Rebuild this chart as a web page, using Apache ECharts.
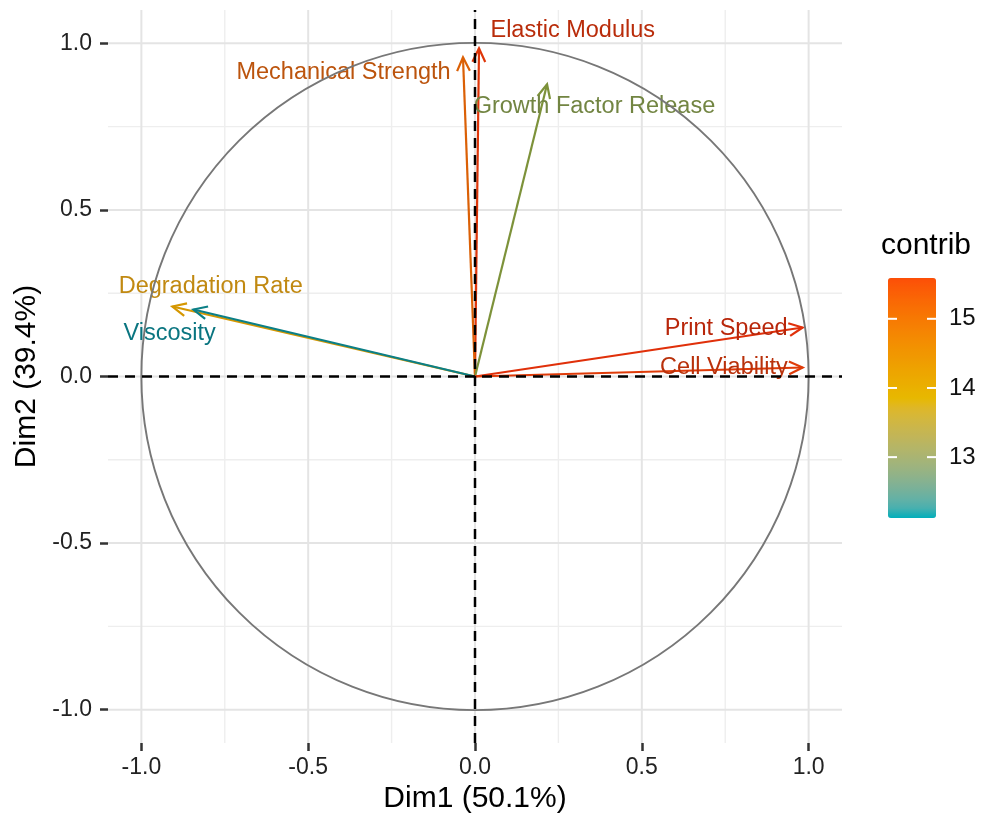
<!DOCTYPE html>
<html>
<head>
<meta charset="utf-8">
<script src="https://cdn.jsdelivr.net/npm/echarts@6/dist/echarts.min.js"></script>
<style>
  html, body { margin: 0; background: #fff; }
  #chart { width: 981px; height: 821px; }
</style>
</head>
<body>
<div id="chart"></div>
<script>
// PCA variables: arrow tips on Dim1 / Dim2 and their contribution
const variables = ['Elastic Modulus', 'Mechanical Strength', 'Growth Factor Release', 'Degradation Rate', 'Viscosity', 'Print Speed', 'Cell Viability']
const dim1 = [0.012, -0.036, 0.216, -0.907, -0.844, 0.982, 0.982]
const dim2 = [0.985, 0.958, 0.877, 0.210, 0.201, 0.147, 0.027]
const contrib = [15.5, 14.85, 13.1, 14.0, 12.12, 15.59, 15.42]
// where the (repelled) labels sit, in Dim units
const labelDim1 = [0.293, -0.394, 0.358, -0.792, -0.915, 0.753, 0.746]
const labelDim2 = [1.039, 0.913, 0.811, 0.270, 0.129, 0.144, 0.027]

const axisTicks = [-1, -0.5, 0, 0.5, 1]
const minorBreaks = [-0.75, -0.25, 0.25, 0.75]
const legendTicks = [13, 14, 15]
const contribRange = [12.12, 15.59]
const gradientCols = ['#00AFBB', '#E7B800', '#FC4E07']
// the marks in the picture come out deeper than the colour bar
const arrowCols = ['#0B7F86', '#D4A000', '#E0300A']
const textCols = ['#0A7580', '#C29212', '#B8260A']

const FONT = "'Liberation Sans', Arial, sans-serif"
const LIM = 1.1

// ggplot interpolates gradientn in CIELAB, so build the bar ramp the same way
function hexRgb (h) { return [1, 3, 5].map(i => parseInt(h.slice(i, i + 2), 16)) }
function toLab (rgb) {
  const [r, g, b] = rgb.map(c => { c /= 255; return c <= 0.04045 ? c / 12.92 : Math.pow((c + 0.055) / 1.055, 2.4) })
  const x = (0.4124 * r + 0.3576 * g + 0.1805 * b) / 0.95047
  const y = 0.2126 * r + 0.7152 * g + 0.0722 * b
  const z = (0.0193 * r + 0.1192 * g + 0.9505 * b) / 1.08883
  const f = t => t > 0.008856 ? Math.cbrt(t) : 7.787 * t + 16 / 116
  return [116 * f(y) - 16, 500 * (f(x) - f(y)), 200 * (f(y) - f(z))]
}
function fromLab ([L, a, bb]) {
  const fy = (L + 16) / 116, fx = fy + a / 500, fz = fy - bb / 200
  const fi = t => t * t * t > 0.008856 ? t * t * t : (t - 16 / 116) / 7.787
  const x = fi(fx) * 0.95047, y = fi(fy), z = fi(fz) * 1.08883
  const lin = [3.2406 * x - 1.5372 * y - 0.4986 * z, -0.9689 * x + 1.8758 * y + 0.0415 * z, 0.0557 * x - 0.2040 * y + 1.0570 * z]
  const c = lin.map(v => {
    v = v <= 0.0031308 ? 12.92 * v : 1.055 * Math.pow(v, 1 / 2.4) - 0.055
    return Math.round(Math.max(0, Math.min(1, v)) * 255)
  })
  return 'rgb(' + c.join(',') + ')'
}
const labs = gradientCols.map(c => toLab(hexRgb(c)))
const ramp = []
for (let i = 0; i <= 24; i++) {
  const t = i / 24 * (labs.length - 1)
  const k = Math.min(Math.floor(t), labs.length - 2)
  const f = t - k
  ramp.push(fromLab(labs[k].map((v, j) => v + (labs[k + 1][j] - v) * f)))
}

// plain rgb blend for the arrows and labels
function markColor (cols, v) {
  const t = (v - contribRange[0]) / (contribRange[1] - contribRange[0]) * (cols.length - 1)
  const k = Math.max(0, Math.min(Math.floor(t), cols.length - 2))
  const f = Math.max(0, Math.min(1, t - k))
  const a = hexRgb(cols[k]), b = hexRgb(cols[k + 1])
  return 'rgb(' + a.map((c, j) => Math.round(c + (b[j] - c) * f)).join(',') + ')'
}

const chartDom = document.getElementById('chart')
const myChart = echarts.init(chartDom)

// straight rules across the panel (grid and zero lines)
function ruleSeries (values, vertical, style, z) {
  return {
    type: 'custom',
    silent: true,
    z: z,
    data: values.map(v => vertical ? [v, 0] : [0, v]),
    renderItem: (params, api) => {
      const v = api.value(vertical ? 0 : 1)
      const p1 = api.coord(vertical ? [v, -LIM] : [-LIM, v])
      const p2 = api.coord(vertical ? [v, LIM] : [LIM, v])
      return { type: 'line', shape: { x1: p1[0], y1: p1[1], x2: p2[0], y2: p2[1] }, style: style }
    }
  }
}

const arrowData = variables.map((name, i) => [dim1[i], dim2[i], contrib[i], labelDim1[i], labelDim2[i], name])

const majorStyle = { stroke: '#e4e4e4', lineWidth: 2 }
const minorStyle = { stroke: '#eeeeee', lineWidth: 1.4 }
const zeroStyle = { stroke: '#000', lineWidth: 2.5, lineDash: [10, 7] }

const series = [
  ruleSeries(minorBreaks, true, minorStyle, 1),
  ruleSeries(minorBreaks, false, minorStyle, 1),
  ruleSeries(axisTicks, true, majorStyle, 1),
  ruleSeries(axisTicks, false, majorStyle, 1),
  {
    type: 'custom',
    silent: true,
    z: 3,
    data: arrowData,
    encode: { x: 0, y: 1 },
    renderItem: (params, api) => {
      const o = api.coord([0, 0])
      const t = api.coord([api.value(0), api.value(1)])
      const stroke = markColor(arrowCols, api.value(2))
      const ang = Math.atan2(t[1] - o[1], t[0] - o[0])
      const L = 15, a = 0.44
      const h1 = [t[0] - L * Math.cos(ang - a), t[1] - L * Math.sin(ang - a)]
      const h2 = [t[0] - L * Math.cos(ang + a), t[1] - L * Math.sin(ang + a)]
      const lp = api.coord([api.value(3), api.value(4)])
      return {
        type: 'group',
        children: [
          { type: 'line', shape: { x1: o[0], y1: o[1], x2: t[0], y2: t[1] }, style: { stroke: stroke, lineWidth: 2.2 } },
          { type: 'polyline', shape: { points: [h1, t, h2] }, style: { stroke: stroke, lineWidth: 2.2, fill: null } },
          {
            type: 'text',
            x: lp[0],
            y: lp[1],
            style: {
              text: arrowData[params.dataIndex][5],
              fill: markColor(textCols, api.value(2)),
              font: '23.5px ' + FONT,
              align: 'center',
              verticalAlign: 'middle'
            }
          }
        ]
      }
    }
  },
  {
    // correlation circle
    type: 'custom',
    silent: true,
    z: 4,
    data: [[0, 0, 1]],
    renderItem: (params, api) => {
      const c = api.coord([api.value(0), api.value(1)])
      const r = api.size([api.value(2), 0])[0]
      return { type: 'circle', shape: { cx: c[0], cy: c[1], r: r }, style: { stroke: '#777', lineWidth: 1.9, fill: null } }
    }
  },
  ruleSeries([0], true, zeroStyle, 5),
  ruleSeries([0], false, zeroStyle, 5)
]

const barTop = 278, barH = 240, barLeft = 888, barW = 48
const legendGraphics = [
  { type: 'text', left: 881, top: 231, style: { text: 'contrib', font: '30px ' + FONT, fill: '#000' } }
]
legendTicks.forEach(v => {
  const y = barTop + (contribRange[1] - v) / (contribRange[1] - contribRange[0]) * barH
  legendGraphics.push(
    { type: 'line', z: 100, shape: { x1: barLeft, y1: y, x2: barLeft + 9, y2: y }, style: { stroke: '#fff', lineWidth: 2 } },
    { type: 'line', z: 100, shape: { x1: barLeft + barW - 9, y1: y, x2: barLeft + barW, y2: y }, style: { stroke: '#fff', lineWidth: 2 } },
    { type: 'text', z: 100, x: 949, y: y, style: { text: String(v), font: '24px ' + FONT, fill: '#111', verticalAlign: 'middle' } }
  )
})

function valueAxis (name, gap, margin) {
  return {
    type: 'value',
    min: -LIM,
    max: LIM,
    name: name,
    nameLocation: 'middle',
    nameGap: gap,
    nameTextStyle: { fontSize: 30, color: '#000', fontFamily: FONT },
    axisLine: { show: false, onZero: false },
    splitLine: { show: false },
    axisTick: { show: true, customValues: axisTicks, length: 8, lineStyle: { color: '#333', width: 2.5 } },
    axisLabel: { customValues: axisTicks, formatter: v => v.toFixed(1), fontSize: 23, color: '#222', fontFamily: FONT, margin: margin }
  }
}

myChart.setOption({
  animation: false,
  backgroundColor: '#fff',
  grid: { left: 108, right: 139, top: 10, bottom: 78 },
  xAxis: valueAxis('Dim1 (50.1%)', 41, 13),
  yAxis: valueAxis('Dim2 (39.4%)', 59, 16),
  visualMap: {
    type: 'continuous',
    min: contribRange[0],
    max: contribRange[1],
    dimension: 2,
    seriesIndex: 4,
    left: barLeft,
    top: barTop,
    itemWidth: barW,
    itemHeight: barH,
    padding: 0,
    calculable: false,
    hoverLink: false,
    inRange: { color: ramp }
  },
  graphic: legendGraphics,
  series: series
})
</script>
</body>
</html>
